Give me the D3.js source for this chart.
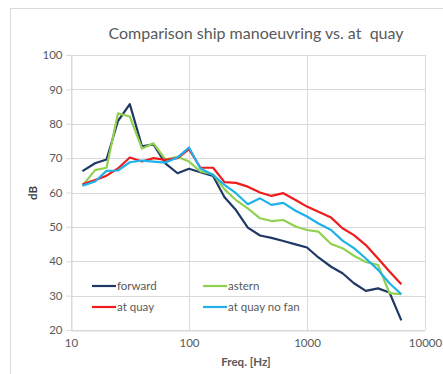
<!DOCTYPE html>
<html>
<head>
<meta charset="utf-8">
<script src="https://cdn.jsdelivr.net/npm/d3@7"></script>
<style>
  body { margin: 0; background: #fff; }
  text { font-family: Lato, "Open Sans", sans-serif; }
</style>
</head>
<body>
<div id="chart"></div>
<script>
// 1/3 octave band centre frequencies
const freqs = [12.5, 16, 20, 25, 31.5, 40, 50, 63, 80, 100, 125, 160, 200, 250, 315, 400,
  500, 630, 800, 1000, 1250, 1600, 2000, 2500, 3150, 4000, 5000, 6300];

const forward = [66.2, 68.5, 69.6, 80.8, 85.7, 73.4, 74.0, 68.5, 65.6, 66.9, 65.9, 64.8, 58.6, 54.9,
  49.8, 47.5, 46.8, 45.9, 44.9, 44.0, 41.1, 38.4, 36.5, 33.6, 31.4, 32.1, 30.9, 22.8];
const astern = [62.0, 66.5, 67.2, 83.0, 82.1, 72.8, 74.3, 69.6, 70.4, 69.0, 66.1, 65.3, 60.9, 57.8,
  55.4, 52.5, 51.7, 52.0, 50.1, 49.1, 48.6, 45.0, 43.8, 41.6, 39.8, 38.9, 30.7, 30.4];
const atQuay = [62.4, 63.6, 64.9, 67.0, 70.2, 69.0, 70.0, 69.5, 70.0, 72.6, 67.2, 67.2, 63.0, 62.8,
  61.7, 60.0, 59.0, 59.8, 57.8, 55.9, 54.4, 52.7, 49.6, 47.6, 44.7, 40.8, 37.0, 33.3];
const atQuayNoFan = [62.0, 63.2, 66.3, 66.4, 68.8, 69.3, 69.0, 68.7, 70.2, 73.1, 67.0, 65.1, 62.2, 59.8,
  56.6, 58.3, 56.4, 57.0, 54.7, 53.0, 51.0, 49.1, 46.0, 43.8, 40.8, 37.5, 33.6, 30.4];

const seriesNames = ["forward", "astern", "at quay", "at quay no fan"];
const seriesColors = ["#1f3864", "#92d050", "#ee1c1c", "#1eb1ec"];
const xTicks = [10, 100, 1000, 10000];
const yTicks = [20, 30, 40, 50, 60, 70, 80, 90, 100];

const width = 443, height = 374;
const margin = { top: 55, right: 18, bottom: 44, left: 71 };

const svg = d3.select("#chart").append("svg")
  .attr("width", width)
  .attr("height", height);

// chart area border
svg.append("rect")
  .attr("x", 10.5).attr("y", 8.5)
  .attr("width", 450).attr("height", 380)
  .attr("fill", "none").attr("stroke", "#d9d9d9");

const x = d3.scaleLog().domain([10, 10000]).range([margin.left, width - margin.right]);
const y = d3.scaleLinear().domain([20, 100]).range([height - margin.bottom, margin.top]);

// grid
svg.append("g").selectAll("line").data(yTicks).join("line")
  .attr("x1", x(10)).attr("x2", x(10000))
  .attr("y1", d => Math.round(y(d)) + 0.5).attr("y2", d => Math.round(y(d)) + 0.5)
  .attr("stroke", "#d9d9d9");
svg.append("g").selectAll("line").data(xTicks).join("line")
  .attr("y1", y(20)).attr("y2", y(100))
  .attr("x1", d => Math.round(x(d)) + 0.5).attr("x2", d => Math.round(x(d)) + 0.5)
  .attr("stroke", "#d9d9d9");

// axes
const xAxis = svg.append("g")
  .attr("transform", `translate(0,${Math.round(y(20)) + 0.5})`)
  .call(d3.axisBottom(x).tickValues(xTicks).tickFormat(d3.format("d")).tickSize(0).tickPadding(8));
const yAxis = svg.append("g")
  .attr("transform", `translate(${Math.round(x(10)) + 0.5},0)`)
  .call(d3.axisLeft(y).tickValues(yTicks).tickSize(5).tickPadding(4));
[xAxis, yAxis].forEach(a => {
  a.selectAll(".domain, line").attr("stroke", "#d9d9d9");
  a.selectAll("text").attr("fill", "#595959").style("font-size", "11.5px");
});
yAxis.selectAll(".tick line").attr("x2", 0).attr("x1", -5);

// titles
svg.append("text")
  .attr("x", 256).attr("y", 39)
  .attr("text-anchor", "middle")
  .attr("fill", "#595959")
  .style("font-size", "16px")
  .style("white-space", "pre")
  .text("Comparison ship manoeuvring vs. at  quay");

svg.append("text")
  .attr("x", 246).attr("y", 366)
  .attr("text-anchor", "middle")
  .attr("fill", "#595959")
  .style("font-size", "11.5px")
  .style("font-weight", "bold")
  .text("Freq. [Hz]");

svg.append("text")
  .attr("transform", "translate(37,193) rotate(-90)")
  .attr("text-anchor", "middle")
  .attr("fill", "#404040")
  .style("font-size", "11.5px")
  .style("font-weight", "bold")
  .text("dB");

// lines
const allSeries = [forward, astern, atQuay, atQuayNoFan];
const line = d3.line()
  .x((d, i) => x(freqs[i]))
  .y(d => y(d));

svg.append("g").selectAll("path").data(allSeries).join("path")
  .attr("d", line)
  .attr("fill", "none")
  .attr("stroke", (d, i) => seriesColors[i])
  .attr("stroke-width", 2.2)
  .attr("stroke-linejoin", "round");

// legend
const legend = svg.append("g").selectAll("g").data(seriesNames).join("g")
  .attr("transform", (d, i) => `translate(${i % 2 === 0 ? 92 : 203},${i < 2 ? 286 : 307})`);
legend.append("line")
  .attr("x1", 0).attr("x2", 24)
  .attr("stroke", (d, i) => seriesColors[i])
  .attr("stroke-width", 2.2);
legend.append("text")
  .attr("x", 25).attr("dy", "0.35em")
  .attr("fill", "#595959")
  .style("font-size", "11.5px")
  .text(d => d);
</script>
</body>
</html>
